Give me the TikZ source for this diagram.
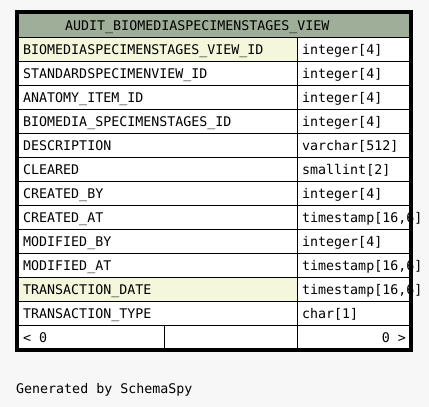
\documentclass[tikz,border=0pt]{standalone}
\usepackage{fontspec}
\setmonofont{DejaVu Sans Mono}
\begin{document}
\begin{tikzpicture}[x=1pt,y=-1pt,
  cell/.style={font=\ttfamily\fontsize{13.3}{14}\selectfont, inner sep=0pt, anchor=base west},
  grid/.style={line width=1pt, black}]
\definecolor{pagebg}{HTML}{F7F7F7}
\definecolor{headbg}{HTML}{9EAE98}
\definecolor{keybg}{HTML}{F4F7DC}
\useasboundingbox (0,0) rectangle (429,407);
\fill[pagebg] (0,0) rectangle (429,407);
% table body
\fill[white] (17,12) rectangle (411,349);
\fill[headbg] (17,12) rectangle (411,37);
\fill[keybg] (18,37) rectangle (297,61);
\fill[keybg] (18,277) rectangle (297,301);
% row rules
\foreach \y in {37,61,...,325} \draw[grid] (18,\y) -- (410,\y);
\draw[grid] (297,37) -- (297,349);
\draw[grid] (164,325) -- (164,349);
% outer frame
\draw[line width=3.5pt] (16.75,11.75) rectangle (410.75,349.75);
% header
\node[cell] (title) at (65,30) {AUDIT\_BIOMEDIASPECIMENSTAGES\_VIEW};
% columns (set over the frame, so long types run past it)
\foreach \n/\t [count=\i from 0] in {
  BIOMEDIASPECIMENSTAGES\_VIEW\_ID/integer[4],
  STANDARDSPECIMENVIEW\_ID/integer[4],
  ANATOMY\_ITEM\_ID/integer[4],
  BIOMEDIA\_SPECIMENSTAGES\_ID/integer[4],
  DESCRIPTION/varchar[512],
  CLEARED/smallint[2],
  CREATED\_BY/integer[4],
  CREATED\_AT/{timestamp[16,6]},
  MODIFIED\_BY/integer[4],
  MODIFIED\_AT/{timestamp[16,6]},
  TRANSACTION\_DATE/{timestamp[16,6]},
  TRANSACTION\_TYPE/char[1]} {
  \node[cell] (name\i) at (23,{54+24*\i}) {\n};
  \node[cell] (type\i) at (302,{54+24*\i}) {\t};
}
% footer row
\node[cell] (prev) at (23,342) {< 0};
\node[cell, anchor=base east] (next) at (406,342) {0 >};
% caption
\node[cell] (caption) at (16,393) {Generated by SchemaSpy};
\end{tikzpicture}
\end{document}
